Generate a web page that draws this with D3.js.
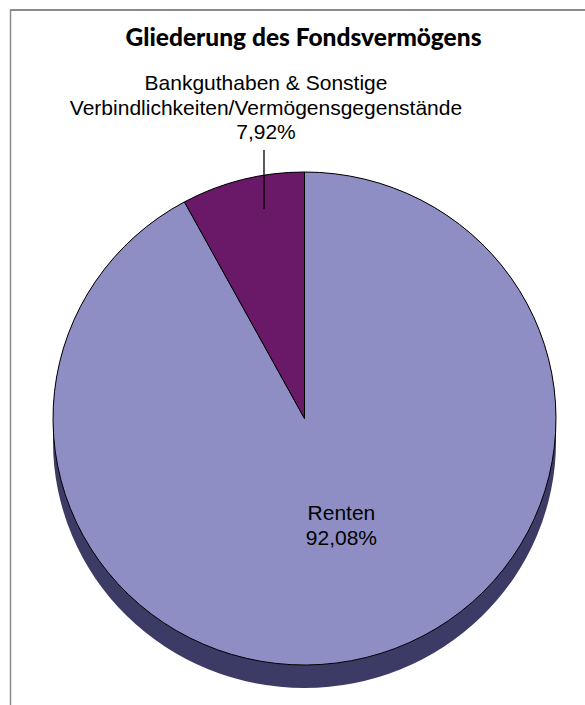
<!DOCTYPE html>
<html>
<head>
<meta charset="utf-8">
<script src="https://cdn.jsdelivr.net/npm/d3@7"></script>
<style>
  body { margin: 0; background: #fff; }
  svg { display: block; }
</style>
</head>
<body>
<div id="chart"></div>
<script>
// data
var categories = ["Renten", "Bankguthaben & Sonstige Verbindlichkeiten/Vermögensgegenstände"]
var values = [92.08, 7.92]
var valueLabels = ["92,08%", "7,92%"]
var colors = ["#8e8ec4", "#6a1868"]
var title = "Gliederung des Fondsvermögens"

var width = 585, height = 705
var cx = 304.5, cy = 418.5, rx = 251.5, ry = 246.5, depth = 23

var svg = d3.select("#chart").append("svg")
    .attr("width", width)
    .attr("height", height)

// frame (top + left only)
svg.append("line")
    .attr("x1", 10).attr("x2", width).attr("y1", 10).attr("y2", 10)
    .attr("stroke", "#8a8a8a").attr("stroke-width", 2)
svg.append("line")
    .attr("x1", 10.5).attr("x2", 10.5).attr("y1", 10).attr("y2", height)
    .attr("stroke", "#8a8a8a").attr("stroke-width", 1.5)

// title
svg.append("text")
    .attr("x", 303.5)
    .attr("y", 46)
    .attr("text-anchor", "middle")
    .style("font-family", "Lato, 'Open Sans', sans-serif")
    .style("font-weight", "900")
    .style("font-size", "24.5px")
    .text(title)

var pie = d3.pie().sort(null).value(function (d) { return d })
var arcs = pie(values)

var k = ry / rx
var arc = d3.arc().innerRadius(0).outerRadius(rx)

// 3d side: upper half at cy, lower half shifted by depth
var sidePath = "M" + (cx - rx) + "," + cy +
    " A" + rx + "," + ry + " 0 0 1 " + (cx + rx) + "," + cy +
    " L" + (cx + rx) + "," + (cy + depth) +
    " A" + rx + "," + ry + " 0 0 1 " + (cx - rx) + "," + (cy + depth) + " Z"
svg.append("path")
    .attr("d", sidePath)
    .attr("fill", "#3c3b66")

// top face
var g = svg.append("g")
    .attr("transform", "translate(" + cx + "," + cy + ") scale(1," + k + ")")

g.selectAll("path.slice")
    .data(arcs)
    .enter()
    .append("path")
    .attr("class", "slice")
    .attr("d", arc)
    .attr("fill", function (d, i) { return colors[i] })
    .attr("stroke", "#000")
    .attr("stroke-width", 1)
    .attr("vector-effect", "non-scaling-stroke")

var labelFont = "'Liberation Sans', Arial, Helvetica, sans-serif"

// Renten label inside the slice
var a0 = (arcs[0].startAngle + arcs[0].endAngle) / 2
var lx0 = cx + Math.sin(a0) * 150
var ly0 = cy + 101.5
var t0 = svg.append("text")
    .attr("text-anchor", "middle")
    .style("font-family", labelFont)
    .style("font-size", "21px")
    .attr("fill", "#000")
t0.append("tspan").attr("x", lx0).attr("y", ly0).text(categories[0])
t0.append("tspan").attr("x", lx0).attr("y", ly0 + 25).text(valueLabels[0])

// Bankguthaben label above the pie with a leader line
var a1 = (arcs[1].startAngle + arcs[1].endAngle) / 2
var lineX = cx + Math.sin(a1) * 164.5
svg.append("line")
    .attr("x1", lineX).attr("x2", lineX)
    .attr("y1", 150).attr("y2", cy - ry + 37)
    .attr("stroke", "#000").attr("stroke-width", 1.3)

var t1 = svg.append("text")
    .attr("text-anchor", "middle")
    .style("font-family", labelFont)
    .style("font-size", "21px")
    .attr("fill", "#000")
var parts = ["Bankguthaben & Sonstige", "Verbindlichkeiten/Vermögensgegenstände", valueLabels[1]]
parts.forEach(function (p, i) {
    t1.append("tspan").attr("x", 266).attr("y", 90 + i * 24.5).text(p)
})
</script>
</body>
</html>
